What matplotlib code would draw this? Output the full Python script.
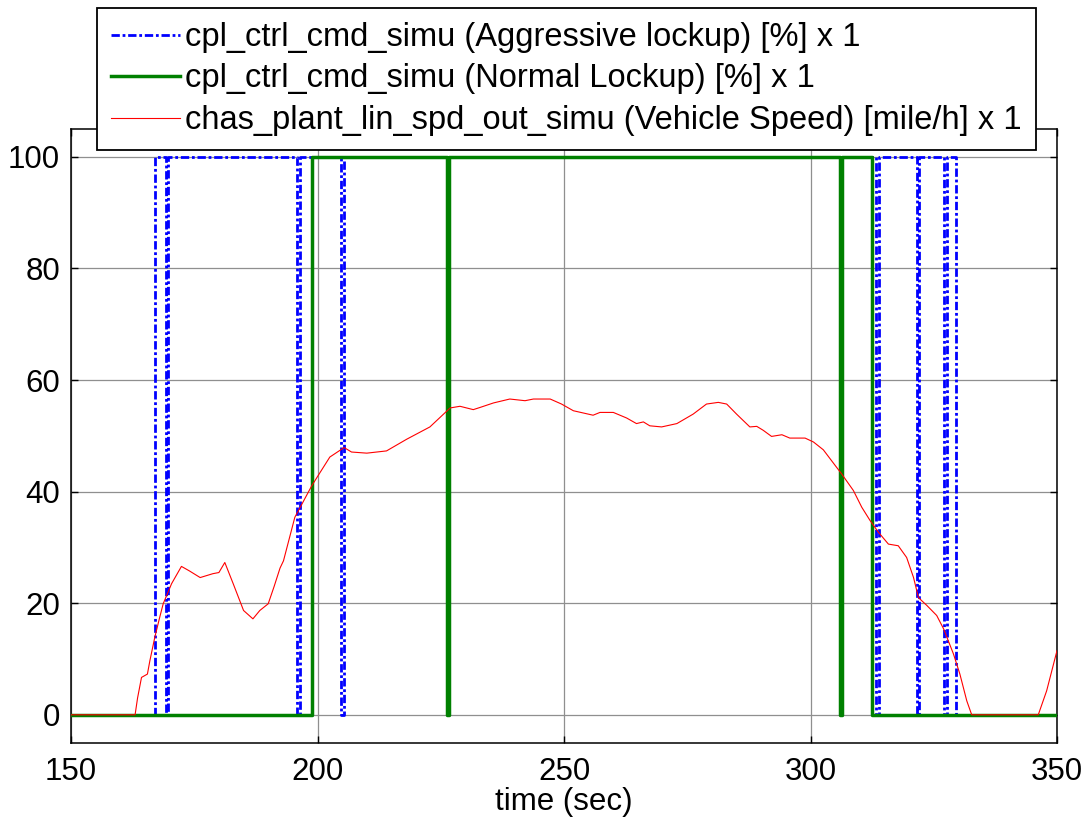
import matplotlib
matplotlib.use("Agg")
import matplotlib.pyplot as plt

# ---- data -----------------------------------------------------------------
# Aggressive lockup command (step signal, steps-post)
agg_time = [150, 167.0, 169.2, 169.7, 195.9, 196.4, 204.8, 205.3,
            313.3, 313.8, 321.6, 322.1, 327.1, 327.6, 329.6, 350]
agg_val = [0, 100, 0, 100, 0, 100, 0, 100,
           0, 100, 0, 100, 0, 100, 0, 0]

# Normal lockup command (step signal, steps-post)
norm_time = [150, 198.8, 226.2, 226.7, 305.9, 306.4, 312.4, 350]
norm_val = [0, 100, 0, 100, 0, 100, 0, 0]

# Vehicle speed [mile/h]
speed_time = [150, 163.0, 163.5, 164.3, 165.5, 166.0, 167.0, 168.0, 168.7,
              170.4, 172.4, 174.0, 176.2, 178.8, 180.0, 181.2, 182.9, 185.0,
              186.9, 188.3, 190.0, 191.2, 192.4, 193.1, 195.4, 197.1, 198.8,
              200.5, 202.5, 205.4, 206.9, 210.0, 214.0, 218.1, 222.8, 226.9,
              228.9, 231.6, 233.0, 235.7, 239.0, 242.1, 243.8, 247.2, 249.5,
              251.9, 255.9, 257.3, 260.0, 262.7, 264.7, 266.1, 267.4, 269.8,
              272.9, 276.2, 278.9, 281.3, 283.0, 285.0, 287.7, 289.1, 290.4,
              292.1, 294.2, 295.8, 298.9, 300.6, 302.6, 305.0, 306.3, 308.7,
              310.4, 312.1, 313.8, 315.8, 317.8, 319.5, 320.9, 321.9, 323.6,
              325.6, 327.0, 329.0, 330.3, 331.7, 332.7, 346.2, 347.9, 350]
speed_val = [0, 0, 3.0, 6.7, 7.3, 9.7, 13.9, 17.5, 19.9,
             23.5, 26.6, 25.8, 24.6, 25.3, 25.5, 27.3, 23.5, 18.7,
             17.2, 18.7, 19.9, 23.0, 26.3, 27.6, 35.4, 38.2, 41.0,
             43.4, 46.2, 47.9, 47.1, 46.9, 47.3, 49.4, 51.6, 55.0,
             55.3, 54.7, 55.1, 55.9, 56.6, 56.3, 56.6, 56.6, 55.7,
             54.5, 53.7, 54.2, 54.2, 53.2, 52.2, 52.5, 51.8, 51.6,
             52.2, 53.9, 55.7, 56.0, 55.7, 53.9, 51.6, 51.7, 51.0,
             49.9, 50.2, 49.6, 49.6, 48.9, 47.5, 44.7, 43.2, 40.2,
             37.2, 34.8, 32.7, 30.6, 30.3, 28.2, 24.6, 21.0, 19.6,
             17.8, 15.4, 10.9, 7.3, 2.5, 0, 0, 4.3, 11.5]

labels = ["cpl_ctrl_cmd_simu (Aggressive lockup) [%] x 1",
          "cpl_ctrl_cmd_simu (Normal Lockup) [%] x 1",
          "chas_plant_lin_spd_out_simu (Vehicle Speed) [mile/h] x 1"]
x_ticks = [150, 200, 250, 300, 350]
y_ticks = [0, 20, 40, 60, 80, 100]
x_label = "time (sec)"

# ---- figure ---------------------------------------------------------------
plt.rcParams['font.family'] = ['Liberation Sans', 'DejaVu Sans']
FS = 22.5
LFS = 23.5

W, H = 1089, 825
fig = plt.figure(figsize=(W / 100, H / 100), dpi=100)
ax = fig.add_axes([71 / W, 1 - 742.7 / H, (1057 - 71) / W, (742.7 - 129) / H])

ax.plot(agg_time, agg_val, drawstyle='steps-post', color='#0000ff',
        lw=2.0, linestyle=(0, (3, 1, 1, 1)), label=labels[0], zorder=3)
ax.plot(norm_time, norm_val, drawstyle='steps-post', color='#008000',
        lw=2.5, label=labels[1], zorder=4)
ax.plot(speed_time, speed_val, color='#ff0000', lw=0.8, label=labels[2],
        zorder=5)

ax.set_xlim(150, 350)
ax.set_ylim(-5, 105)
ax.set_xticks(x_ticks)
ax.set_yticks(y_ticks)
ax.grid(True, color='#8f8f8f', lw=0.9, linestyle='-')
ax.set_axisbelow(True)
ax.tick_params(direction='in', length=5, width=1, labelsize=FS,
               top=True, right=True, colors='black')
ax.tick_params(axis='x', pad=10)
ax.tick_params(axis='y', pad=8)
for s in ax.spines.values():
    s.set_linewidth(1.1)
    s.set_color('black')
ax.set_xlabel(x_label, fontsize=FS, labelpad=0)

leg = ax.legend(loc='upper left', bbox_to_anchor=(97 / W, 1 - 8 / H),
                bbox_transform=fig.transFigure, borderaxespad=0,
                fontsize=LFS, frameon=True, fancybox=False, framealpha=1,
                edgecolor='black', handlelength=2.1, handletextpad=0.18,
                borderpad=0.43, labelspacing=0.32)
leg.get_frame().set_linewidth(1.3)
leg.set_zorder(10)

fig.savefig("out.png", dpi=100)
